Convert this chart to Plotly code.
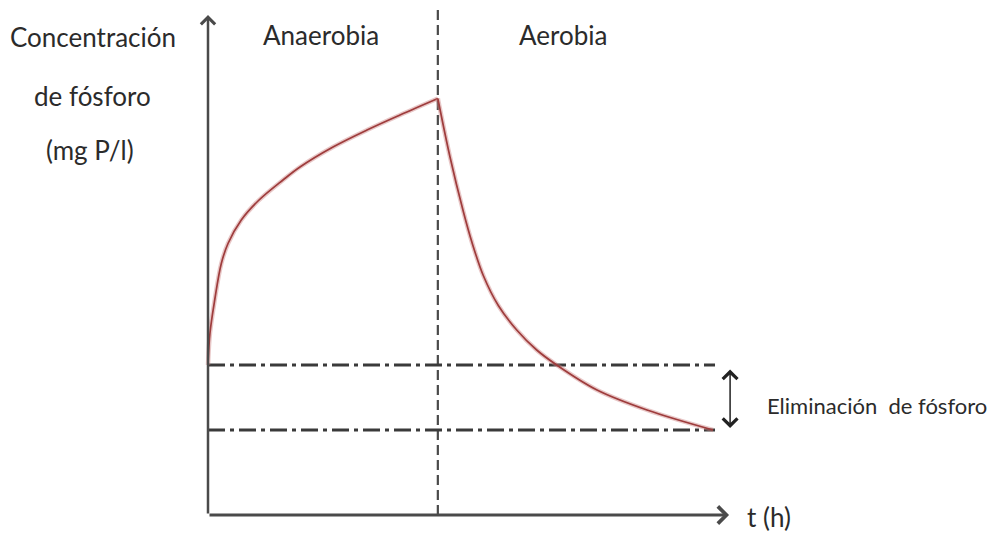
import plotly.graph_objects as go

# Phosphorus concentration during the anaerobic phase (release)
t_anaerobia = [0.0, 0.38, 1.29, 2.56, 3.85, 6.40, 9.62, 14.42, 17.69, 24.04, 30.58, 36.92, 44.2]
p_anaerobia = [30.0, 36.4, 43.0, 50.3, 54.3, 59.0, 62.8, 67.0, 69.6, 73.6, 77.0, 80.0, 83.3]

# Phosphorus concentration during the aerobic phase (uptake)
t_aerobia = [44.2, 46.54, 49.10, 50.71, 52.94, 55.83, 59.37, 63.21, 67.06, 74.81, 84.42, 97.12]
p_aerobia = [83.3, 71.6, 60.7, 54.7, 47.9, 41.9, 37.0, 33.0, 30.0, 25.0, 21.0, 17.0]

# Reference levels: initial and final concentration
nivel_inicial = 30.0
nivel_final = 17.0
t_cambio = 44.2      # switch from anaerobic to aerobic
t_fin = 97.5
t_max = 100.2
p_max = 100.0

FONT = "Lato, sans-serif"
TXT = "#2b2b2b"
AXIS = "#4a4a4a"

fig = go.Figure()

for tt, pp in [(t_anaerobia, p_anaerobia), (t_aerobia, p_aerobia)]:
    fig.add_trace(go.Scatter(x=tt, y=pp, mode="lines",
                             line=dict(color="rgba(205,130,130,0.45)", width=4.5, shape="spline", smoothing=1.0),
                             hoverinfo="skip", showlegend=False))
    fig.add_trace(go.Scatter(x=tt, y=pp, mode="lines",
                             line=dict(color="#9e3c3c", width=1.7, shape="spline", smoothing=1.0),
                             showlegend=False))

shapes = [
    # phase separator
    dict(type="line", x0=t_cambio, x1=t_cambio, y0=0, y1=101, xref="x", yref="y",
         line=dict(color="#4a4a4a", width=2.2, dash="10px,5px"), layer="below"),
    # initial / final levels
    dict(type="line", x0=0, x1=t_fin, y0=nivel_inicial, y1=nivel_inicial, xref="x", yref="y",
         line=dict(color="#3a3a3a", width=3, dash="17px,5px,4px,5px"), layer="below"),
    dict(type="line", x0=0, x1=t_fin, y0=nivel_final, y1=nivel_final, xref="x", yref="y",
         line=dict(color="#3a3a3a", width=3, dash="17px,5px,4px,5px"), layer="below"),
]

annotations = [
    # y axis
    dict(x=0, y=p_max, ax=0, ay=0, xref="x", yref="y", axref="x", ayref="y", text="",
         showarrow=True, arrowhead=4, arrowsize=1.1, arrowwidth=2.5, arrowcolor=AXIS),
    # x axis
    dict(x=t_max, y=0, ax=0, ay=0, xref="x", yref="y", axref="x", ayref="y", text="",
         showarrow=True, arrowhead=4, arrowsize=1.1, arrowwidth=3, arrowcolor=AXIS),
    # removal span
    dict(x=100.4, y=nivel_final + 0.4, ax=100.4, ay=nivel_inicial - 0.6, xref="x", yref="y",
         axref="x", ayref="y", text="", showarrow=True, arrowhead=4, startarrowhead=4,
         arrowside="end+start", arrowsize=1.9, startarrowsize=1.9, arrowwidth=1.5, arrowcolor="#222222"),
]

def label(text, x, y, size=26):
    annotations.append(dict(x=x, y=y, xref="x", yref="y", text=text, showarrow=False,
                            font=dict(family=FONT, size=size, color=TXT),
                            xanchor="center", yanchor="middle"))

label("Concentración", -22.1, 95.6)
label("de fósforo", -22.3, 83.8)
label("(mg P/l)", -22.7, 73.0)
label("Anaerobia", 21.7, 96.0)
label("Aerobia", 68.3, 96.0)
label("Eliminación  de fósforo", 128.7, 22.0, size=22)
label("t (h)", 107.9, -0.4)

fig.update_layout(
    width=993, height=538,
    margin=dict(l=0, r=0, t=0, b=0),
    paper_bgcolor="white", plot_bgcolor="white",
    xaxis=dict(range=[-40, 150.96], visible=False, fixedrange=True),
    yaxis=dict(range=[-4.6, 103], visible=False, fixedrange=True),
    shapes=shapes, annotations=annotations,
    showlegend=False,
)

fig.write_html("out.html")
